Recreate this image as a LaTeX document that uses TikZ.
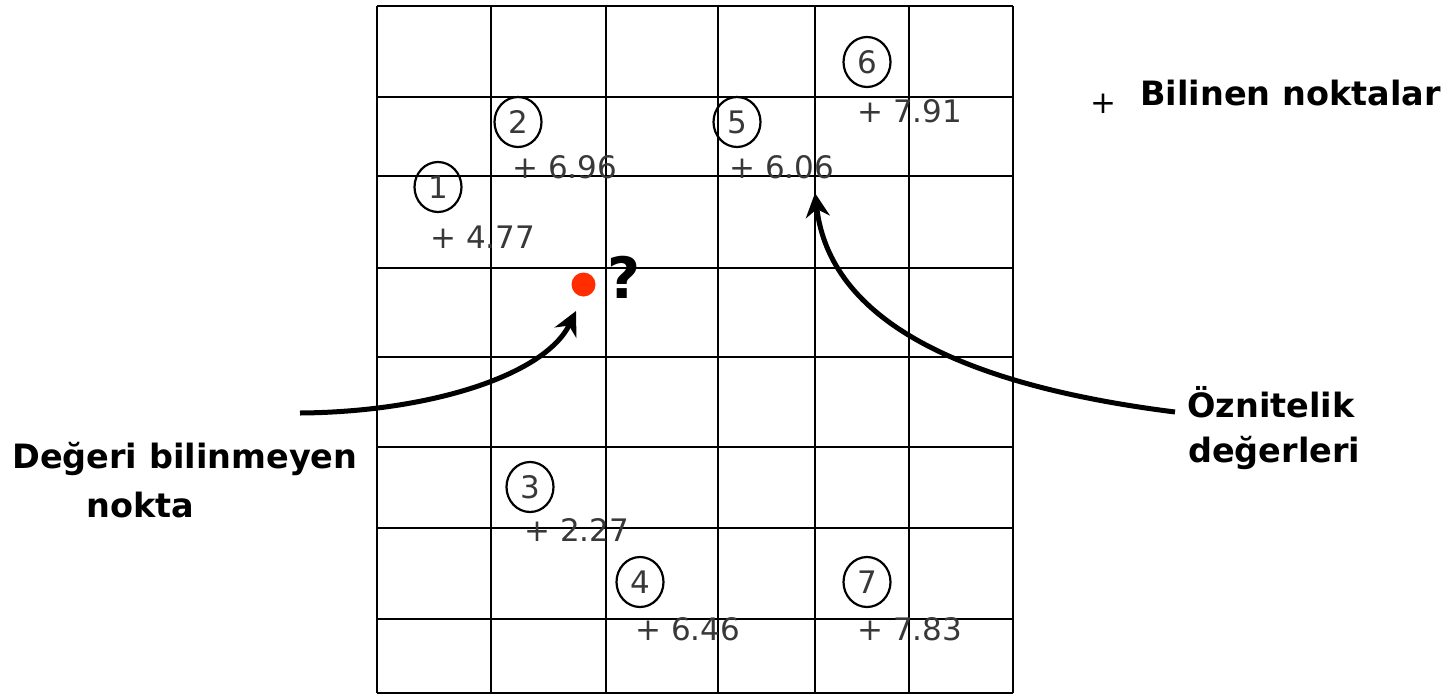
\documentclass[tikz,border=0pt]{standalone}
\usepackage{fontspec}
\newfontfamily\dvfont{DejaVu Sans}
\usetikzlibrary{arrows.meta,shapes.geometric}
\definecolor{numgray}{gray}{0.22}
\definecolor{dotred}{RGB}{255,45,0}
\begin{document}
\begin{tikzpicture}[x=1pt,y=-1pt,
  gridline/.style={line width=2.4pt},
  ptlabel/.style={ellipse,draw,line width=2.2pt,minimum width=47pt,minimum height=50pt,inner sep=0pt,font=\dvfont\fontsize{31}{37}\selectfont,text=numgray},
  vallabel/.style={anchor=base west,inner sep=0pt,font=\dvfont\fontsize{31}{37}\selectfont,text=numgray},
  caption/.style={anchor=base west,inner sep=0pt,font=\dvfont\bfseries\fontsize{33.5}{40}\selectfont},
  pointer/.style={line width=5pt,-{Stealth[length=24pt,width=24pt]}}]
\useasboundingbox (0,0) rectangle (1447,696);
% grid
\foreach \x in {377,491,606,718,815,909,1013} \draw[gridline] (\x,6) -- (\x,693);
\foreach \y in {6,97,176,268,357,447,528,619,693} \draw[gridline] (377,\y) -- (1013,\y);
% known points
\node[ptlabel] (p1) at (438,187) {1};
\node[ptlabel] (p2) at (518,122) {2};
\node[ptlabel] (p3) at (530,487) {3};
\node[ptlabel] (p4) at (640,582) {4};
\node[ptlabel] (p5) at (737,122) {5};
\node[ptlabel] (p6) at (867,62) {6};
\node[ptlabel] (p7) at (867,582) {7};
\node[vallabel] (v1) at (430,248) {+ 4.77};
\node[vallabel] (v2) at (512,178) {+ 6.96};
\node[vallabel] (v3) at (524,541) {+ 2.27};
\node[vallabel] (v4) at (635,640) {+ 6.46};
\node[vallabel] (v5) at (729,178) {+ 6.06};
\node[vallabel] (v6) at (857,122) {+ 7.91};
\node[vallabel] (v7) at (857,640) {+ 7.83};
% unknown point
\node[circle,fill=dotred,minimum size=24pt,inner sep=0pt] (dot) at (583.5,284.5) {};
\node[inner sep=0pt,font=\dvfont\bfseries\fontsize{57}{60}\selectfont] (q) at (624,277) {?};
% legend
\node[inner sep=0pt,font=\dvfont\fontsize{31}{37}\selectfont] (legplus) at (1103,103.5) {+};
\node[caption] (legtext) at (1140,105) {Bilinen noktalar};
% captions
\node[caption] (unk1) at (12,468) {Değeri bilinmeyen};
\node[caption] (unk2) at (86,517) {nokta};
\node[caption] (att1) at (1187,417) {Öznitelik};
\node[caption] (att2) at (1188,462) {değerleri};
% pointers
\coordinate (lstart) at (300,413);
\coordinate (ltip) at (576,311);
\coordinate (rstart) at (1175,412);
\coordinate (rtip) at (815,193);
\draw[pointer] (lstart) .. controls (430,412) and (545,375) .. (ltip);
\draw[pointer] (rstart) .. controls (960,385) and (830,320) .. (rtip);
\end{tikzpicture}
\end{document}
